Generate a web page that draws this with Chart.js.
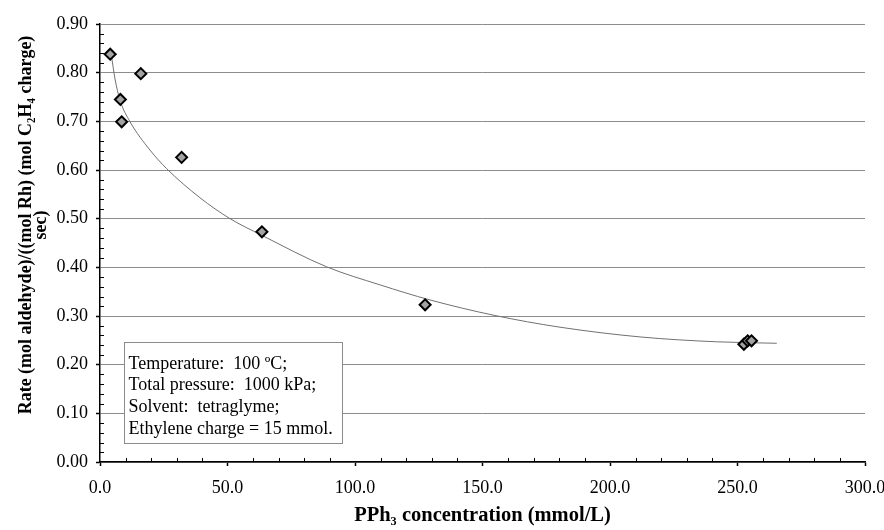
<!DOCTYPE html>
<html>
<head>
<meta charset="utf-8">
<script src="https://cdn.jsdelivr.net/npm/chart.js@4/dist/chart.umd.min.js"></script>
<style>
  html, body { margin: 0; padding: 0; background: #fff; }
  #wrap { width: 884px; height: 530px; }
</style>
</head>
<body>
<div id="wrap"><canvas id="chart" width="884" height="530"></canvas></div>
<script>
// Measured hydroformylation rates vs. PPh3 concentration
const pphConc = [4, 8, 8.5, 16, 32, 63.5, 127.5, 252.5, 254, 255.5];
const rateValues = [0.838, 0.745, 0.699, 0.798, 0.626, 0.473, 0.323, 0.242, 0.249, 0.249];

// Trend curve through the measurements
const trendConc = [4.5, 5.9, 7.8, 11.8, 19.6, 26.1, 39.2, 51, 63.4, 88.9, 109.8, 129.4, 154.9, 180.4, 211.8, 241.8, 265.4];
const trendRate = [0.834, 0.787, 0.744, 0.699, 0.641, 0.603, 0.543, 0.500, 0.466, 0.401, 0.364, 0.333, 0.301, 0.277, 0.257, 0.247, 0.244];

// Axis ticks
const xTickValues = [0, 50, 100, 150, 200, 250, 300];
const xTickLabels = ['0.0', '50.0', '100.0', '150.0', '200.0', '250.0', '300.0'];
const yTickValues = [0, 0.1, 0.2, 0.3, 0.4, 0.5, 0.6, 0.7, 0.8, 0.9];
const yTickLabels = ['0.00', '0.10', '0.20', '0.30', '0.40', '0.50', '0.60', '0.70', '0.80', '0.90'];

// Titles and reaction conditions
const xTitle = 'PPh\u2083 concentration (mmol/L)';
const yTitleLines = ['Rate (mol aldehyde)/((mol Rh) (mol C\u2082H\u2084 charge)', 'sec)'];
const conditionLines = [
  'Temperature:  100 \u00BAC;',
  'Total pressure:  1000 kPa;',
  'Solvent:  tetraglyme;',
  'Ethylene charge = 15 mmol.'
];

const SERIF = '"Liberation Serif", "Times New Roman", Times, serif';

function labelFor(values, labels, v) {
  const i = values.findIndex(t => Math.abs(t - v) < 1e-6);
  return i >= 0 ? labels[i] : '';
}

// Small inward ticks between the labelled ones
const minorTicks = {
  id: 'minorTicks',
  afterDraw(chart) {
    const { ctx, scales: { x, y } } = chart;
    ctx.save();
    ctx.strokeStyle = '#000';
    ctx.lineWidth = 1;
    ctx.beginPath();
    for (let i = 1; i < 30; i++) {
      if (i % 5 === 0) continue;
      const px = Math.round(x.getPixelForValue(i * 10)) + 0.5;
      ctx.moveTo(px, y.bottom);
      ctx.lineTo(px, y.bottom - 4);
    }
    for (let i = 1; i < 45; i++) {
      if (i % 5 === 0) continue;
      const py = Math.round(y.getPixelForValue(i * 0.02)) + 0.5;
      ctx.moveTo(x.left, py);
      ctx.lineTo(x.left + 4, py);
    }
    ctx.stroke();
    ctx.restore();
  }
};

// Rotated two-line caption for the rate axis
const rateCaption = {
  id: 'rateCaption',
  afterDraw(chart) {
    const { ctx, chartArea } = chart;
    const cy = (chartArea.top + chartArea.bottom) / 2 - 18;
    ctx.save();
    ctx.fillStyle = '#000';
    ctx.font = 'bold 18px ' + SERIF;
    ctx.textAlign = 'center';
    ctx.textBaseline = 'middle';
    const xs = [26, 41];
    yTitleLines.forEach((line, i) => {
      ctx.save();
      ctx.translate(xs[i], cy);
      ctx.rotate(-Math.PI / 2);
      ctx.fillText(line, 0, 0);
      ctx.restore();
    });
    ctx.restore();
  }
};

// Boxed note with the reaction conditions
const conditionsNote = {
  id: 'conditionsNote',
  afterDatasetsDraw(chart) {
    const { ctx, scales: { x, y } } = chart;
    const left = Math.round(x.getPixelForValue(9.4)) + 0.5;
    const right = Math.round(x.getPixelForValue(94.8)) + 0.5;
    const top = Math.round(y.getPixelForValue(0.246)) + 0.5;
    const bottom = Math.round(y.getPixelForValue(0.039)) + 0.5;
    ctx.save();
    ctx.fillStyle = '#fff';
    ctx.fillRect(left, top, right - left, bottom - top);
    ctx.strokeStyle = '#8c8c8c';
    ctx.lineWidth = 1;
    ctx.strokeRect(left, top, right - left, bottom - top);
    ctx.fillStyle = '#000';
    ctx.font = '18px ' + SERIF;
    ctx.textAlign = 'left';
    ctx.textBaseline = 'middle';
    conditionLines.forEach((line, i) => {
      ctx.fillText(line, left + 4, top + 21.5 + i * 21.7);
    });
    ctx.restore();
  }
};

new Chart(document.getElementById('chart'), {
  type: 'scatter',
  data: {
    datasets: [
      {
        label: 'Rate',
        data: pphConc.map((c, i) => ({ x: c, y: rateValues[i] })),
        pointStyle: 'rectRot',
        pointRadius: 5.5,
        backgroundColor: '#a3a3a3',
        borderColor: '#000',
        borderWidth: 2,
        showLine: false
      },
      {
        label: 'Trend',
        data: trendConc.map((c, i) => ({ x: c, y: trendRate[i] })),
        showLine: true,
        pointRadius: 0,
        borderColor: '#707070',
        borderWidth: 1,
        fill: false,
        cubicInterpolationMode: 'monotone'
      }
    ]
  },
  options: {
    responsive: false,
    animation: false,
    layout: { padding: { top: 24, right: 19, bottom: 0, left: 0 } },
    plugins: {
      legend: { display: false },
      tooltip: { enabled: false }
    },
    scales: {
      x: {
        type: 'linear',
        min: 0,
        max: 300,
        afterBuildTicks(scale) { scale.ticks = xTickValues.map(v => ({ value: v })); },
        ticks: {
          callback: v => labelFor(xTickValues, xTickLabels, v),
          font: { family: SERIF, size: 18 },
          color: '#000',
          padding: 11,
          maxRotation: 0,
          autoSkip: false
        },
        grid: { drawOnChartArea: false, drawTicks: true, tickLength: 4, tickColor: '#000', tickWidth: 1.5 },
        border: { color: '#000', width: 1.5 },
        title: {
          display: true,
          text: xTitle,
          color: '#000',
          font: { family: SERIF, size: 20.5, weight: 'bold', lineHeight: 1.1 },
          padding: { top: 0, bottom: 3 }
        },
        afterFit(scale) { scale.paddingLeft = 0; scale.paddingRight = 0; scale.height = 68; }
      },
      y: {
        type: 'linear',
        min: 0,
        max: 0.9,
        afterBuildTicks(scale) { scale.ticks = yTickValues.map(v => ({ value: v })); },
        ticks: {
          callback: v => labelFor(yTickValues, yTickLabels, v),
          font: { family: SERIF, size: 18 },
          color: '#000',
          padding: 8
        },
        grid: { color: '#8c8c8c', lineWidth: 1, drawTicks: true, tickLength: 4, tickColor: '#000', tickWidth: 1.5 },
        border: { color: '#000', width: 1.5 },
        afterFit(scale) { scale.width = 100; scale.paddingTop = 0; scale.paddingBottom = 0; }
      }
    }
  },
  plugins: [minorTicks, conditionsNote, rateCaption]
});
</script>
</body>
</html>
